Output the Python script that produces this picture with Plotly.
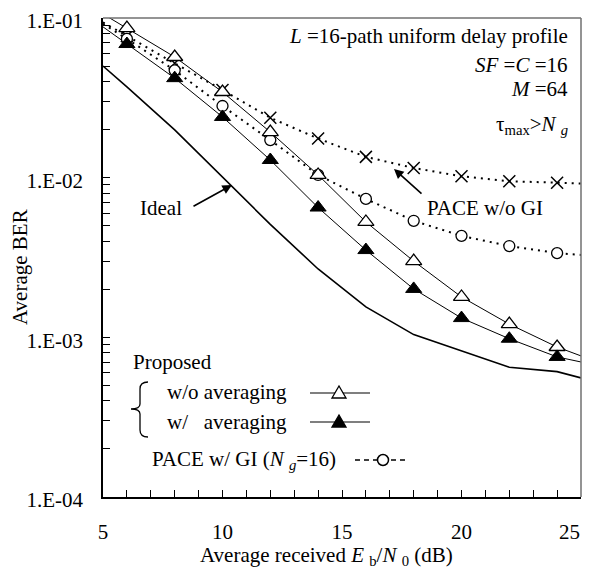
import plotly.graph_objects as go

# ---------------- data ----------------
ebn0 = [5, 6, 8, 10, 12, 14, 16, 18, 20, 22, 24, 25]
ber_ideal = [0.050, 0.037, 0.0199, 0.0101, 0.0051, 0.00268, 0.00155, 0.00104, 0.00082, 0.00065, 0.00061, 0.000557]
ber_wo_avg = [0.106, 0.0865, 0.057, 0.0344, 0.0193, 0.0104, 0.00528, 0.0030, 0.00179, 0.00121, 0.00087, 0.000765]
ber_w_avg = [0.088, 0.0687, 0.042, 0.024, 0.0129, 0.0065, 0.00352, 0.00201, 0.00132, 0.00098, 0.000754, 0.000701]
ber_pace_gi = [0.092, 0.074, 0.047, 0.0281, 0.0172, 0.0104, 0.00736, 0.00537, 0.00432, 0.00373, 0.00337, 0.00328]
ber_pace_nogi = [0.094, 0.077, 0.052, 0.0354, 0.0237, 0.0176, 0.0135, 0.0115, 0.0102, 0.0095, 0.0093, 0.0092]

y_tickvals = [1e-4, 1e-3, 1e-2, 1e-1]
y_ticktext = ["1.E-04", "1.E-03", "1.E-02", "1.E-01"]
x_tickvals = [5, 10, 15, 20]
x_ticktext = ["5", "10", "15", "20"]
x_last_label = "25"

FONT = "Liberation Serif, Times New Roman, serif"
FS = 21
OFF = 8  # default body margin of the page
W, H = 590 - OFF, 569 - OFF
L, R, T, B = 103, 9, 18, 72          # in screen pixels
PW, PH = 590 - L - R, 569 - T - B


def px(x):
    return (x - L) / PW


def py(y):
    return (T + PH - y) / PH


fig = go.Figure()

inner = slice(1, -1)

# lines
fig.add_trace(go.Scatter(x=ebn0, y=ber_ideal, mode="lines",
                         line=dict(color="black", width=1.6), showlegend=False))
fig.add_trace(go.Scatter(x=ebn0, y=ber_pace_nogi, mode="lines",
                         line=dict(color="black", width=2, dash="2px,5px"), showlegend=False))
fig.add_trace(go.Scatter(x=ebn0, y=ber_pace_gi, mode="lines",
                         line=dict(color="black", width=2, dash="2px,5px"), showlegend=False))
fig.add_trace(go.Scatter(x=ebn0, y=ber_wo_avg, mode="lines",
                         line=dict(color="black", width=1), showlegend=False))
fig.add_trace(go.Scatter(x=ebn0, y=ber_w_avg, mode="lines",
                         line=dict(color="black", width=1), showlegend=False))

# markers
fig.add_trace(go.Scatter(x=ebn0[inner], y=ber_pace_nogi[inner], mode="markers",
                         marker=dict(symbol="x-thin", size=12, line=dict(color="black", width=1.5)),
                         showlegend=False))
fig.add_trace(go.Scatter(x=ebn0[inner], y=ber_pace_gi[inner], mode="markers",
                         marker=dict(symbol="circle", size=11, color="white",
                                     line=dict(color="black", width=1.3)),
                         showlegend=False))
fig.add_trace(go.Scatter(x=ebn0[inner], y=ber_wo_avg[inner], mode="markers",
                         marker=dict(symbol="triangle-up", size=14, color="white",
                                     line=dict(color="black", width=1.3)),
                         showlegend=False))
fig.add_trace(go.Scatter(x=ebn0[inner], y=ber_w_avg[inner], mode="markers",
                         marker=dict(symbol="triangle-up", size=14, color="black",
                                     line=dict(color="black", width=1)),
                         showlegend=False))

minor_vals = [d * m for d in [1e-4, 1e-3, 1e-2] for m in range(2, 10)]

fig.update_layout(
    width=W, height=H,
    margin=dict(l=L - OFF, r=R, t=T - OFF, b=B, pad=0),
    paper_bgcolor="white", plot_bgcolor="white",
    font=dict(family=FONT, size=FS, color="black"),
    xaxis=dict(range=[5, 25], tickvals=x_tickvals, ticktext=x_ticktext,
               ticks="inside", ticklen=7, tickwidth=1.2, tickcolor="black",
               minor=dict(dtick=1, ticks="inside", ticklen=7, tickwidth=1.2, tickcolor="black"),
               showline=True, linecolor="black", linewidth=1.5,
               showgrid=False, zeroline=False, automargin=False,
               ticklabeloverflow="allow",
               tickfont=dict(family=FONT, size=FS), ticklabelstandoff=15),
    yaxis=dict(type="log", range=[-4, -1], tickvals=y_tickvals, ticktext=y_ticktext,
               ticks="inside", ticklen=7, tickwidth=1.2, tickcolor="black",
               minor=dict(tickvals=minor_vals, ticks="inside", ticklen=7, tickwidth=1.2,
                          tickcolor="black", showgrid=False),
               showline=True, linecolor="black", linewidth=1.5,
               showgrid=False, zeroline=False, automargin=False,
               ticklabeloverflow="allow", ticklabelshift=3,
               tickfont=dict(family=FONT, size=FS), ticklabelstandoff=14),
)

shapes = []
# gray frame top & right
shapes.append(dict(type="line", xref="paper", yref="paper", x0=0, x1=1, y0=1, y1=1,
                   line=dict(color="#707070", width=1.5)))
shapes.append(dict(type="line", xref="paper", yref="paper", x0=1, x1=1, y0=0, y1=1,
                   line=dict(color="#707070", width=1.5)))


def path_from(pts, close=False):
    s = "M " + " L ".join(f"{px(a):.5f},{py(b):.5f}" for a, b in pts)
    return s + (" Z" if close else "")


# brace
bx, by0, by1, bm = 140, 382, 437, 409
brace = (f"M {px(148):.5f},{py(by0):.5f} Q {px(bx):.5f},{py(by0):.5f} {px(bx):.5f},{py(by0+7):.5f} "
         f"L {px(bx):.5f},{py(bm-5):.5f} Q {px(bx):.5f},{py(bm):.5f} {px(131):.5f},{py(bm):.5f} "
         f"Q {px(bx):.5f},{py(bm):.5f} {px(bx):.5f},{py(bm+5):.5f} "
         f"L {px(bx):.5f},{py(by1-7):.5f} Q {px(bx):.5f},{py(by1):.5f} {px(148):.5f},{py(by1):.5f}")
shapes.append(dict(type="path", xref="paper", yref="paper", path=brace,
                   line=dict(color="black", width=1.3)))

# legend samples
for yy, fill in [(393, "white"), (422, "black")]:
    shapes.append(dict(type="line", xref="paper", yref="paper", x0=px(310), x1=px(370),
                       y0=py(yy), y1=py(yy), line=dict(color="black", width=1.2)))
    tri = [(339 - 7, yy + 5), (339 + 7, yy + 5), (339, yy - 7)]
    shapes.append(dict(type="path", xref="paper", yref="paper", path=path_from(tri, True),
                       fillcolor=fill, line=dict(color="black", width=1.3)))
shapes.append(dict(type="line", xref="paper", yref="paper", x0=px(355), x1=px(408),
                   y0=py(460), y1=py(460), line=dict(color="black", width=1.5, dash="5px,4px")))
shapes.append(dict(type="circle", xref="paper", yref="paper", x0=px(377.5), x1=px(388.5),
                   y0=py(465.5), y1=py(454.5), fillcolor="white",
                   line=dict(color="black", width=1.5)))
fig.update_layout(shapes=shapes)

ann = []


def txt(text, x, y, xanchor="left", size=FS, **kw):
    ann.append(dict(text=text, xref="paper", yref="paper", x=px(x), y=py(y),
                    xanchor=xanchor, yanchor="middle", showarrow=False,
                    font=dict(family=FONT, size=size, color="black"), **kw))


# last x tick label, kept inside the page edge
txt(x_last_label, 582, 532, "right")

# condition block (right-aligned)
txt("<i>L</i> =16-path uniform delay profile", 570, 36, "right")
txt("<i>SF</i> =<i>C</i> =16", 570, 65, "right")
txt("<i>M</i> =64", 570, 89, "right")
txt("τ<sub>max</sub>><i>N</i> <sub><i>g</i></sub>", 570, 125, "right")

# legend texts
txt("Proposed", 131, 362, "left")
txt("w/o averaging", 165, 392, "left")
txt("w/\u00a0\u00a0 averaging", 165, 422, "left")
txt("PACE w/ GI (<i>N</i> <sub><i>g</i></sub>=16)", 150, 460, "left")

# curve labels
txt("Ideal", 138, 208, "left")
txt("PACE w/o GI", 425, 208, "left")

# axis titles
ann.append(dict(text="Average received <i>E</i> <sub>b</sub>/<i>N</i> <sub>0</sub> (dB)",
                xref="paper", yref="paper", x=px(326), y=py(556), xanchor="center",
                yanchor="middle", showarrow=False, font=dict(family=FONT, size=FS)))
ann.append(dict(text="Average BER", xref="paper", yref="paper", x=px(20), y=py(267),
                xanchor="center", yanchor="middle", textangle=-90, showarrow=False,
                font=dict(family=FONT, size=FS)))

# arrows (head in data coords; log axis uses exponent)
ann.append(dict(x=5 + (232 - L) / (PW / 20), y=-1 - (185 - T) / (PH / 3), xref="x", yref="y",
                ax=-40, ay=22, text="", showarrow=True, arrowhead=2, arrowsize=1.2,
                arrowwidth=1.6, arrowcolor="black"))
ann.append(dict(x=5 + (394 - L) / (PW / 20), y=-1 - (169 - T) / (PH / 3), xref="x", yref="y",
                ax=29, ay=26, text="", showarrow=True, arrowhead=2, arrowsize=1.2,
                arrowwidth=1.6, arrowcolor="black"))
fig.update_layout(annotations=ann)

fig.write_html("out.html")
